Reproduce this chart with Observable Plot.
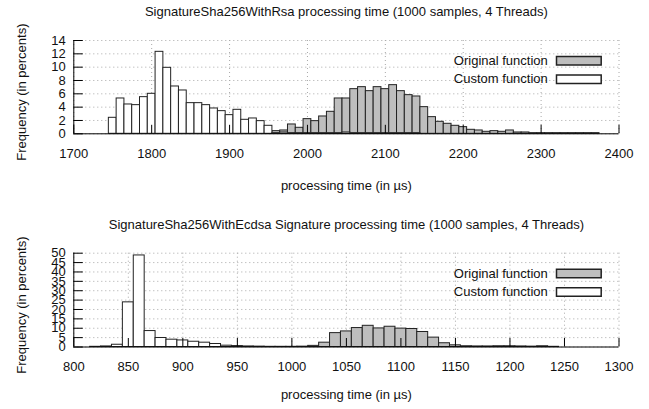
<!DOCTYPE html>
<html><head><meta charset="utf-8">
<script src="https://cdn.jsdelivr.net/npm/d3@7"></script>
<script src="https://cdn.jsdelivr.net/npm/@observablehq/plot@0.6"></script>
<style>
body{margin:0;background:#fff;}
#chart{width:649px;height:409px;overflow:hidden;background:#fff;}
#chart svg{display:block;}
</style></head><body><div id="chart"></div>
<script>
// ---- texts ----
const rsaTitle = "SignatureSha256WithRsa processing time (1000 samples, 4 Threads)";
const ecdsaTitle = "SignatureSha256WithEcdsa Signature processing time (1000 samples, 4 Threads)";
const xLabel = "processing time (in µs)";
const yLabel = "Frequency (in percents)";
const legendLabels = ["Original function", "Custom function"];

// ---- tick values ----
const rsaXTicks = [1700, 1800, 1900, 2000, 2100, 2200, 2300, 2400];
const rsaYTicks = [0, 2, 4, 6, 8, 10, 12, 14];
const ecdsaXTicks = [800, 850, 900, 950, 1000, 1050, 1100, 1150, 1200, 1250, 1300];
const ecdsaYTicks = [0, 5, 10, 15, 20, 25, 30, 35, 40, 45, 50];

// ---- RSA histogram (bin centre in µs, frequency in %) ----
const rsaOriginalTime = [1950,1960,1970,1980,1990,2000,2010,2020,2030,2040,2050,2060,2070,2080,2090,2100,2110,2120,2130,2140,2150,2160,2170,2180,2190,2200,2210,2220,2230,2240,2250,2260,2270,2280,2290,2300,2310,2320,2330,2340,2350,2360,2370];
const rsaOriginalPct  = [0.1,0.4,0.5,1.4,0.9,2.2,1.9,2.6,3.3,5.3,5.3,6.7,7.0,6.4,7.0,6.7,7.3,6.4,5.8,5.6,4.0,2.5,1.8,1.5,1.2,1.0,0.6,0.5,0.3,0.4,0.3,0.5,0.2,0.2,0.1,0.1,0.1,0.1,0.1,0.1,0.1,0.1,0.1];
const rsaCustomTime = [1750,1760,1770,1780,1790,1800,1810,1820,1830,1840,1850,1860,1870,1880,1890,1900,1910,1920,1930,1940,1950,1960,1970,1980,1990,2000,2010,2020,2030,2040,2050,2060,2070,2080,2090,2100,2110,2120,2130,2140];
const rsaCustomPct  = [2.4,5.3,4.4,4.3,5.5,6.0,12.3,9.9,7.1,6.5,4.6,4.6,4.3,3.8,3.4,2.8,3.6,2.1,2.3,1.9,1.2,0.1,0.2,0.1,0.1,0.1,0.1,0.1,0.1,0.1,0.2,0.1,0.1,0.1,0.1,0.1,0.1,0.1,0.1,0.1];

// ---- ECDSA histogram ----
const ecdsaOriginalTime = [1010,1020,1030,1040,1050,1060,1070,1080,1090,1100,1110,1120,1130,1140,1150,1160,1170,1180,1190,1200,1210,1220,1230,1240];
const ecdsaOriginalPct  = [0.1,0.6,2.3,7.4,8.3,10.1,11.3,9.9,10.8,9.8,9.6,8.0,5.0,2.0,0.9,0.4,0.3,0.3,0.4,0.4,0.3,0.2,0.4,0.1];
const ecdsaCustomTime = [820,830,840,850,860,870,880,890,900,910,920,930,940,950,960,970,980,990,1000,1010];
const ecdsaCustomPct  = [0.1,0.3,1.2,23.8,48.8,8.5,4.8,3.9,3.5,2.8,2.3,1.6,0.7,0.5,0.3,0.2,0.1,0.1,0.1,0.1];

const BIN = 10; // histogram bin width in µs
const toRows = (t, v) => t.map((d, i) => ({t: d, v: v[i]}));

const FONT = "'Liberation Sans', Arial, Helvetica, sans-serif";
const W = 649, ML = 73.3, MR = 30.5;
const GREY = "#bebebe", EDGE = "#222", INK = "#111";

const swatch = {draw(ctx) { ctx.rect(-22.35, -4.25, 44.7, 8.5); }};

function panel({title, height, marginTop, marginBottom, xDomain, xTicks, yDomain, yTicks, original, custom, xLabelDy}) {
  const fw = W - ML - MR;
  const fh = height - marginTop - marginBottom;
  return Plot.plot({
    width: W, height, marginTop, marginBottom, marginLeft: ML, marginRight: MR,
    style: {fontFamily: FONT, fontSize: "13px", color: INK, background: "white", overflow: "visible"},
    x: {domain: xDomain, ticks: xTicks, tickSize: 0, tickPadding: 15, tickFormat: d => String(d), label: null},
    y: {domain: yDomain, ticks: yTicks, tickSize: 0, tickPadding: 8, tickFormat: d => String(d), label: null},
    marks: [
      Plot.ruleX(xTicks, {x: d => d, stroke: "#a8a8a8", strokeDasharray: "1,3"}),
      Plot.ruleY(yTicks, {y: d => d, stroke: "#a8a8a8", strokeDasharray: "1,3"}),
      Plot.rectY(original, {x1: d => d.t - BIN / 2, x2: d => d.t + BIN / 2, y: "v", fill: GREY, stroke: EDGE, strokeWidth: 1}),
      Plot.rectY(custom, {x1: d => d.t - BIN / 2, x2: d => d.t + BIN / 2, y: "v", fill: "white", stroke: EDGE, strokeWidth: 1}),
      Plot.tickX(xTicks, {x: d => d, insetTop: fh - 8.5, stroke: "#000"}),
      Plot.tickY(yTicks, {y: d => d, insetRight: fw - 9.5, stroke: "#000"}),
      Plot.ruleX([xDomain[0]], {x: d => d, stroke: "#000"}),
      Plot.ruleY([yDomain[0]], {y: d => d, stroke: "#000"}),
      Plot.text([title], {frameAnchor: "top", lineAnchor: "middle", textAnchor: "middle", dy: -28.5, text: d => d, fill: INK}),
      Plot.text([xLabel], {frameAnchor: "bottom", lineAnchor: "middle", textAnchor: "middle", dy: xLabelDy, text: d => d, fill: INK}),
      Plot.text([yLabel], {frameAnchor: "left", lineAnchor: "middle", textAnchor: "middle", rotate: -90, dx: -51.6, dy: 5, text: d => d, fill: INK}),
      Plot.dot([legendLabels[0]], {frameAnchor: "top-right", dx: -40.15, dy: 20.3, symbol: swatch, fill: GREY, stroke: EDGE, strokeWidth: 1.5}),
      Plot.dot([legendLabels[1]], {frameAnchor: "top-right", dx: -40.15, dy: 38.8, symbol: swatch, fill: "white", stroke: EDGE, strokeWidth: 1.5}),
      Plot.text([legendLabels[0]], {frameAnchor: "top-right", lineAnchor: "middle", textAnchor: "end", dx: -71.2, dy: 20.3, text: d => d, fill: INK}),
      Plot.text([legendLabels[1]], {frameAnchor: "top-right", lineAnchor: "middle", textAnchor: "end", dx: -71.2, dy: 38.8, text: d => d, fill: INK})
    ]
  });
}

const chart = document.getElementById("chart");
chart.append(panel({
  title: rsaTitle, height: 205, marginTop: 40, marginBottom: 71.7,
  xDomain: [1700, 2400], xTicks: rsaXTicks, yDomain: [0, 14], yTicks: rsaYTicks,
  original: toRows(rsaOriginalTime, rsaOriginalPct), custom: toRows(rsaCustomTime, rsaCustomPct),
  xLabelDy: 51.7
}));
chart.append(panel({
  title: ecdsaTitle, height: 204, marginTop: 47.7, marginBottom: 62.5,
  xDomain: [800, 1300], xTicks: ecdsaXTicks, yDomain: [0, 50], yTicks: ecdsaYTicks,
  original: toRows(ecdsaOriginalTime, ecdsaOriginalPct), custom: toRows(ecdsaCustomTime, ecdsaCustomPct),
  xLabelDy: 48
}));
</script></body></html>
